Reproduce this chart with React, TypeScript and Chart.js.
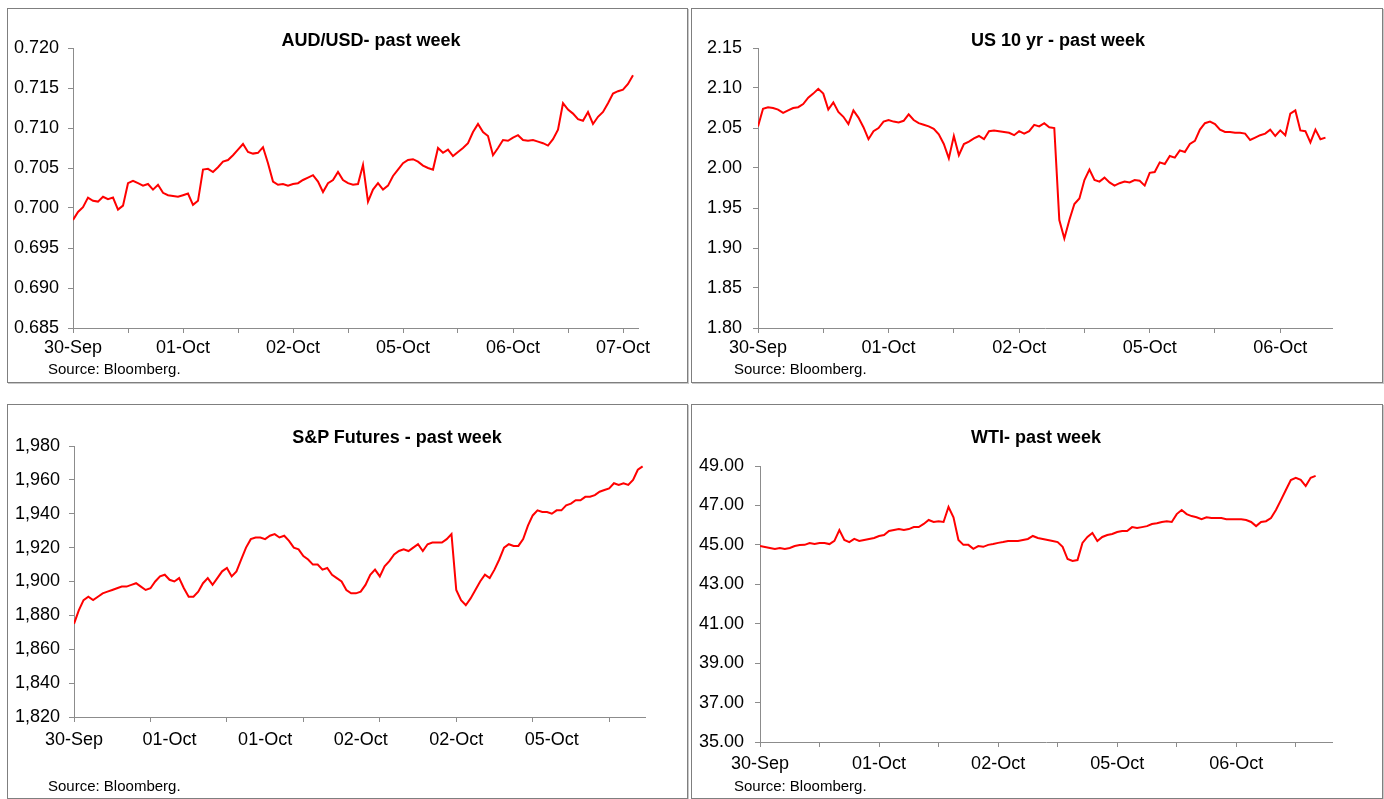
import React, { useEffect, useRef } from 'react';
import { Chart, registerables } from 'chart.js';

Chart.register(...registerables);

const FONT = "'Liberation Sans', Arial, Helvetica, sans-serif";

// ---------- AUD/USD ----------
const AUD_VALUES = [
  0.6985, 0.6995, 0.7001, 0.7013, 0.7009, 0.7008, 0.7014, 0.7011, 0.7013, 0.6998,
  0.7003, 0.7031, 0.7034, 0.7031, 0.7028, 0.7030, 0.7023, 0.7029, 0.7019, 0.7016,
  0.7015, 0.7014, 0.7016, 0.7018, 0.7004, 0.7009, 0.7048, 0.7049, 0.7045, 0.7051,
  0.7058, 0.7060, 0.7066, 0.7073, 0.7080, 0.7070, 0.7068, 0.7069, 0.7076, 0.7056,
  0.7033, 0.7029, 0.7030, 0.7028, 0.7030, 0.7031, 0.7035, 0.7038, 0.7041, 0.7033,
  0.7020, 0.7031, 0.7035, 0.7045, 0.7035, 0.7031, 0.7029, 0.7030, 0.7054, 0.7008,
  0.7023, 0.7031, 0.7023, 0.7028, 0.7040, 0.7048, 0.7056, 0.7060, 0.7061, 0.7058,
  0.7053, 0.7050, 0.7048, 0.7075, 0.7069, 0.7073, 0.7065, 0.7070, 0.7075, 0.7081,
  0.7095, 0.7105, 0.7095, 0.7090, 0.7066, 0.7075, 0.7085, 0.7084, 0.7088, 0.7091,
  0.7085, 0.7084, 0.7085, 0.7083, 0.7081, 0.7078, 0.7086, 0.7098, 0.7131, 0.7123,
  0.7118, 0.7111, 0.7109, 0.7120, 0.7105, 0.7114, 0.7120, 0.7131, 0.7143, 0.7146,
  0.7148, 0.7155, 0.7166,
];
const AUD_X_LABELS = ['30-Sep', '01-Oct', '02-Oct', '05-Oct', '06-Oct', '07-Oct'];

// ---------- US 10 yr ----------
const UST_VALUES = [
  2.052, 2.074, 2.076, 2.075, 2.073, 2.069, 2.072, 2.075, 2.076, 2.080,
  2.088, 2.093, 2.099, 2.093, 2.073, 2.082, 2.070, 2.064, 2.055, 2.072,
  2.063, 2.051, 2.036, 2.046, 2.050, 2.058, 2.060, 2.058, 2.057, 2.059,
  2.067, 2.060, 2.056, 2.054, 2.052, 2.049, 2.042, 2.030, 2.012, 2.040,
  2.016, 2.030, 2.033, 2.037, 2.040, 2.036, 2.046, 2.047, 2.046, 2.045,
  2.044, 2.041, 2.046, 2.043, 2.046, 2.054, 2.052, 2.056, 2.051, 2.050,
  1.935, 1.912, 1.935, 1.955, 1.962, 1.985, 1.998, 1.985, 1.983, 1.988,
  1.982, 1.978, 1.981, 1.983, 1.982, 1.985, 1.984, 1.978, 1.994, 1.995,
  2.007, 2.005, 2.015, 2.013, 2.022, 2.020, 2.030, 2.034, 2.048, 2.056,
  2.058, 2.055, 2.048, 2.045, 2.045, 2.044, 2.044, 2.043, 2.035, 2.038,
  2.041, 2.043, 2.048, 2.040, 2.047, 2.041, 2.068, 2.072, 2.047, 2.046,
  2.032, 2.048, 2.036, 2.038,
];
const UST_X_LABELS = ['30-Sep', '01-Oct', '02-Oct', '05-Oct', '06-Oct'];

// ---------- S&P Futures ----------
const SPX_VALUES = [
  1875, 1883, 1889, 1891, 1889, 1891, 1893, 1894, 1895, 1896,
  1897, 1897, 1898, 1899, 1897, 1895, 1896, 1900, 1903, 1904,
  1901, 1900, 1902, 1896, 1891, 1891, 1894, 1899, 1902, 1898,
  1902, 1906, 1908, 1903, 1906, 1913, 1920, 1925, 1926, 1926,
  1925, 1927, 1928, 1926, 1927, 1924, 1920, 1919, 1915, 1913,
  1910, 1910, 1907, 1908, 1904, 1902, 1900, 1895, 1893, 1893,
  1894, 1898, 1904, 1907, 1903, 1909, 1912, 1916, 1918, 1919,
  1918, 1920, 1922, 1918, 1922, 1923, 1923, 1923, 1925, 1928,
  1895, 1889, 1886, 1890, 1895, 1900, 1904, 1902, 1907, 1913,
  1920, 1922, 1921, 1921, 1925, 1933, 1939, 1942, 1941, 1941,
  1940, 1942, 1942, 1945, 1946, 1948, 1948, 1950, 1950, 1951,
  1953, 1954, 1955, 1958, 1957, 1958, 1957, 1960, 1966, 1968,
];
const SPX_X_LABELS = ['30-Sep', '01-Oct', '01-Oct', '02-Oct', '02-Oct', '05-Oct'];

// ---------- WTI ----------
const WTI_VALUES = [
  44.94, 44.89, 44.84, 44.79, 44.84, 44.79, 44.84, 44.94, 44.99, 45.00,
  45.09, 45.04, 45.09, 45.09, 45.04, 45.20, 45.75, 45.25, 45.14, 45.30,
  45.20, 45.25, 45.30, 45.35, 45.45, 45.50, 45.70, 45.75, 45.80, 45.75,
  45.80, 45.90, 45.90, 46.06, 46.26, 46.16, 46.20, 46.16, 46.92, 46.40,
  45.25, 45.00, 45.00, 44.80, 44.94, 44.90, 45.00, 45.04, 45.10, 45.14,
  45.20, 45.20, 45.20, 45.25, 45.30, 45.45, 45.35, 45.30, 45.25, 45.20,
  45.14, 44.90, 44.28, 44.18, 44.23, 45.10, 45.40, 45.60, 45.20, 45.40,
  45.50, 45.55, 45.65, 45.70, 45.70, 45.90, 45.85, 45.90, 45.95, 46.06,
  46.10, 46.16, 46.20, 46.16, 46.56, 46.77, 46.56, 46.46, 46.40, 46.30,
  46.40, 46.36, 46.36, 46.36, 46.30, 46.30, 46.30, 46.30, 46.26, 46.16,
  45.95, 46.16, 46.20, 46.36, 46.77, 47.27, 47.78, 48.29, 48.40, 48.30,
  47.98, 48.40, 48.50,
];
const WTI_X_LABELS = ['30-Sep', '01-Oct', '02-Oct', '05-Oct', '06-Oct'];

type PanelDef = {
  title: string;
  values: number[];
  xLabels: string[];
  tickEvery: number;
  labelEvery: number;
  xMax: number;
  yMin: number;
  yMax: number;
  yStep: number;
  yFmt: (v: number) => string;
  box: { x: number; y: number; w: number; h: number };
  pad: { left: number; right: number; top: number; bottom: number };
  yWidth: number;
  xHeight: number;
  yPad: number;
  xPad: number;
  titlePos: { cx: number; cy: number };
  sourcePos: { x: number; y: number };
};

const PANELS: PanelDef[] = [
  {
    title: 'AUD/USD- past week',
    values: AUD_VALUES,
    xLabels: AUD_X_LABELS,
    tickEvery: 11,
    labelEvery: 22,
    xMax: 113,
    yMin: 0.685,
    yMax: 0.72,
    yStep: 0.005,
    yFmt: (v) => v.toFixed(3),
    box: { x: 7, y: 8, w: 681, h: 375 },
    pad: { left: 4, right: 50, top: 40, bottom: 15 },
    yWidth: 62,
    xHeight: 40,
    yPad: 9,
    xPad: 4,
    titlePos: { cx: 371, cy: 40 },
    sourcePos: { x: 48, y: 360 },
  },
  {
    title: 'US 10 yr - past week',
    values: UST_VALUES,
    xLabels: UST_X_LABELS,
    tickEvery: 13,
    labelEvery: 26,
    xMax: 114.3,
    yMin: 1.8,
    yMax: 2.15,
    yStep: 0.05,
    yFmt: (v) => v.toFixed(2),
    box: { x: 691, y: 8, w: 692, h: 375 },
    pad: { left: 4, right: 51, top: 40, bottom: 15 },
    yWidth: 63,
    xHeight: 40,
    yPad: 11,
    xPad: 4,
    titlePos: { cx: 1058, cy: 40 },
    sourcePos: { x: 734, y: 360 },
  },
  {
    title: 'S&P Futures - past week',
    values: SPX_VALUES,
    xLabels: SPX_X_LABELS,
    tickEvery: 16,
    labelEvery: 20,
    xMax: 119.5,
    yMin: 1820,
    yMax: 1980,
    yStep: 20,
    yFmt: (v) => Math.round(v).toLocaleString('en-US'),
    box: { x: 7, y: 404, w: 681, h: 395 },
    pad: { left: 4, right: 43, top: 42, bottom: 42 },
    yWidth: 63,
    xHeight: 40,
    yPad: 9,
    xPad: 7,
    titlePos: { cx: 397, cy: 437 },
    sourcePos: { x: 48, y: 777 },
  },
  {
    title: 'WTI- past week',
    values: WTI_VALUES,
    xLabels: WTI_X_LABELS,
    tickEvery: 12,
    labelEvery: 24,
    xMax: 115.3,
    yMin: 35,
    yMax: 49,
    yStep: 2,
    yFmt: (v) => v.toFixed(2),
    box: { x: 691, y: 404, w: 692, h: 395 },
    pad: { left: 4, right: 51, top: 62, bottom: 17 },
    yWidth: 65,
    xHeight: 40,
    yPad: 11,
    xPad: 6,
    titlePos: { cx: 1036, cy: 437 },
    sourcePos: { x: 734, y: 777 },
  },
];

const AXIS_COLOR = '#8c8c8c';

function buildConfig(p: PanelDef): any {
  const tickValues: number[] = [];
  for (let v = 0; v <= p.xMax + 1e-9; v++) {
    if (v % p.tickEvery === 0 || v % p.labelEvery === 0) tickValues.push(v);
  }
  const markColor = (ctx: any) =>
    ctx.tick && ctx.tick.value % p.tickEvery === 0 ? AXIS_COLOR : 'rgba(0,0,0,0)';
  return {
    type: 'line',
    data: {
      datasets: [
        {
          data: p.values.map((v, i) => ({ x: i, y: v })),
          borderColor: '#ff0000',
          borderWidth: 2,
          pointRadius: 0,
          tension: 0,
          fill: false,
        },
      ],
    },
    options: {
      responsive: false,
      animation: false,
      devicePixelRatio: 1,
      layout: { padding: p.pad },
      plugins: {
        legend: { display: false },
        tooltip: { enabled: false },
        title: { display: false },
      },
      scales: {
        x: {
          type: 'linear',
          min: 0,
          max: p.xMax,
          afterBuildTicks: (scale: any) => {
            scale.ticks = tickValues.map((v) => ({ value: v }));
          },
          afterFit: (scale: any) => {
            scale.height = p.xHeight;
          },
          grid: {
            drawOnChartArea: false,
            drawTicks: true,
            tickLength: 5,
            color: markColor,
            tickColor: markColor,
          },
          border: { display: true, color: AXIS_COLOR, width: 1 },
          ticks: {
            autoSkip: false,
            maxRotation: 0,
            minRotation: 0,
            padding: p.xPad,
            color: '#000',
            font: { family: FONT, size: 18 },
            callback: (v: number) => {
              if (v % p.labelEvery !== 0) return '';
              const l = p.xLabels[v / p.labelEvery];
              return l === undefined ? '' : l;
            },
          },
        },
        y: {
          type: 'linear',
          min: p.yMin,
          max: p.yMax,
          afterFit: (scale: any) => {
            scale.width = p.yWidth;
          },
          grid: {
            drawOnChartArea: false,
            drawTicks: true,
            tickLength: 5,
            color: AXIS_COLOR,
            tickColor: AXIS_COLOR,
          },
          border: { display: true, color: AXIS_COLOR, width: 1 },
          ticks: {
            stepSize: p.yStep,
            padding: p.yPad,
            color: '#000',
            font: { family: FONT, size: 18 },
            callback: (v: number) => p.yFmt(v),
          },
        },
      },
    },
  };
}

function Panel({ p }: { p: PanelDef }) {
  const ref = useRef<HTMLCanvasElement | null>(null);
  useEffect(() => {
    if (!ref.current) return;
    const chart = new Chart(ref.current, buildConfig(p));
    return () => chart.destroy();
  }, [p]);
  return (
    <>
      <canvas
        ref={ref}
        width={p.box.w}
        height={p.box.h}
        style={{
          position: 'absolute',
          left: p.box.x,
          top: p.box.y,
          width: p.box.w,
          height: p.box.h,
        }}
      />
      <div
        style={{
          position: 'absolute',
          left: p.box.x,
          top: p.box.y,
          width: p.box.w,
          height: p.box.h,
          boxSizing: 'border-box',
          border: '1px solid #7f7f7f',
          boxShadow: '1px 1px 0 #c8c8c8',
          pointerEvents: 'none',
        }}
      />
      <div
        style={{
          position: 'absolute',
          left: p.titlePos.cx - 200,
          width: 400,
          top: p.titlePos.cy - 11,
          lineHeight: '22px',
          textAlign: 'center',
          fontFamily: FONT,
          fontWeight: 'bold',
          fontSize: 18,
          color: '#000',
          whiteSpace: 'nowrap',
        }}
      >
        {p.title}
      </div>
      <div
        style={{
          position: 'absolute',
          left: p.sourcePos.x,
          top: p.sourcePos.y,
          lineHeight: '17px',
          fontFamily: FONT,
          fontSize: 15,
          color: '#000',
          whiteSpace: 'nowrap',
        }}
      >
        Source: Bloomberg.
      </div>
    </>
  );
}

export default function App() {
  return (
    <div
      style={{
        position: 'absolute',
        left: 0,
        top: 0,
        width: 1384,
        height: 799,
        overflow: 'hidden',
        background: '#fff',
      }}
    >
      {PANELS.map((p, i) => (
        <Panel key={i} p={p} />
      ))}
    </div>
  );
}
